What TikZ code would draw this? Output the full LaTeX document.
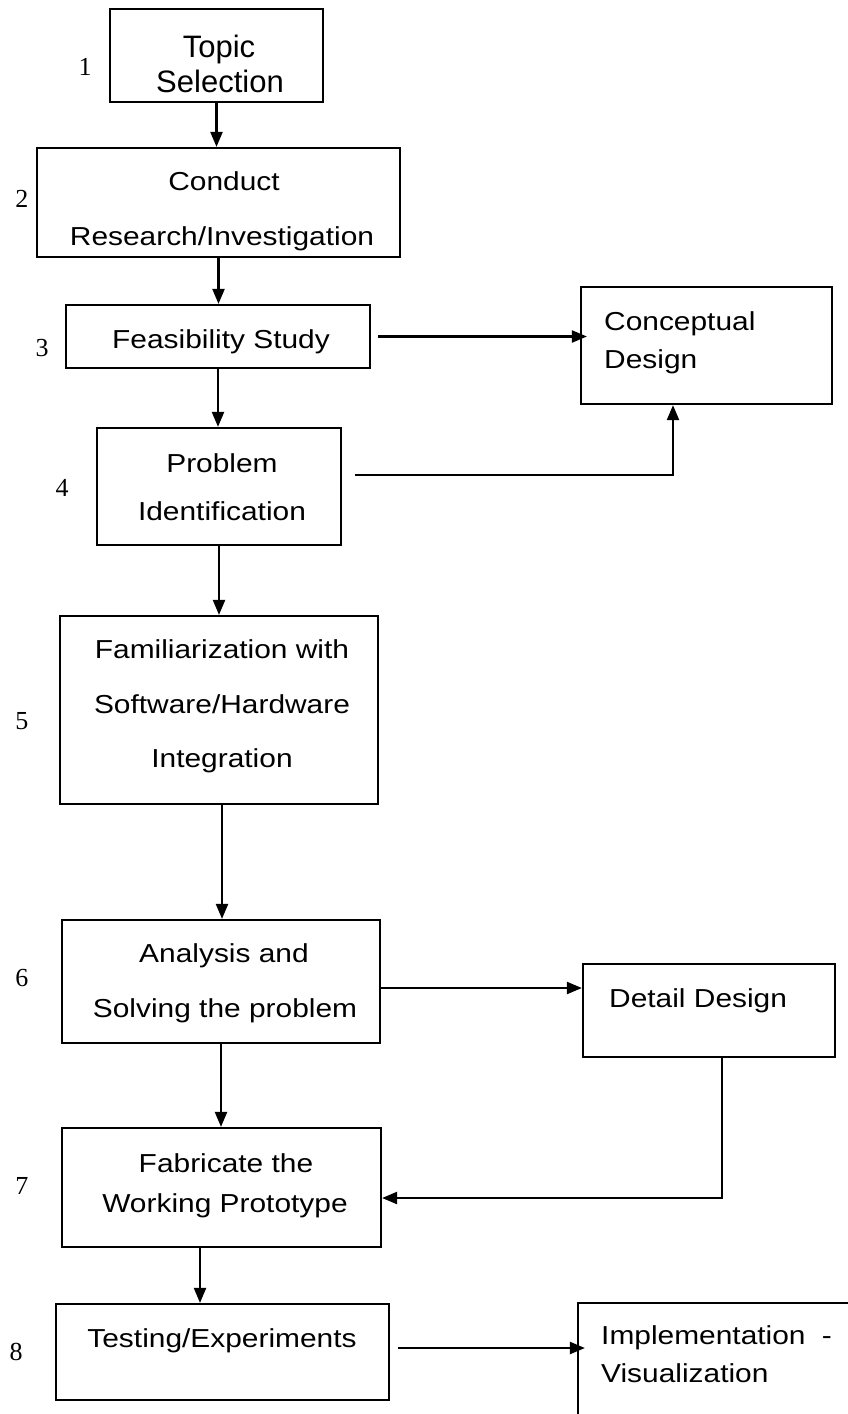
\documentclass[tikz,border=0pt]{standalone}
\usepackage{fontspec}
\setmainfont{Liberation Sans}
\newfontfamily\stretchsans{Liberation Sans}[FakeStretch=1.15]
\newfontfamily\numserif{Liberation Serif}
\usetikzlibrary{arrows.meta}
\begin{document}
\begin{tikzpicture}[x=1pt,y=-1pt,
  box/.style={draw,line width=2.2pt,rectangle,inner sep=0pt},
  lbl/.style={font=\stretchsans\fontsize{26}{30}\selectfont,anchor=base,inner sep=0pt},
  lblbig/.style={font=\fontsize{31}{35}\selectfont,anchor=base,inner sep=0pt},
  lblL/.style={lbl,anchor=base west},
  num/.style={font=\numserif\fontsize{26}{30}\selectfont,inner sep=0pt},
  conn/.style={line width=2.2pt,-{Triangle[length=15pt,width=12pt]}}]
\useasboundingbox (0,0) rectangle (848,1414);
\clip (0,0) rectangle (848,1414);
\fill[white] (0,0) rectangle (848,1414);
% boxes
\node[box,minimum width=213pt,minimum height=93pt] (b1) at (216.5,55.5) {};
\node[box,minimum width=363pt,minimum height=109pt] (b2) at (218.5,202.5) {};
\node[box,minimum width=304pt,minimum height=63pt] (b3) at (218,336.5) {};
\node[box,minimum width=244pt,minimum height=117pt] (b4) at (219,486.5) {};
\node[box,minimum width=251pt,minimum height=117pt] (conc) at (706.5,345.5) {};
\node[box,minimum width=318pt,minimum height=188pt] (b5) at (219,710) {};
\node[box,minimum width=318pt,minimum height=123pt] (b6) at (221,981.5) {};
\node[box,minimum width=252pt,minimum height=93pt] (det) at (709,1010.5) {};
\node[box,minimum width=319pt,minimum height=119pt] (b7) at (221.5,1187.5) {};
\node[box,minimum width=333pt,minimum height=96pt] (b8) at (222.5,1352) {};
\node[box,minimum width=322pt,minimum height=157pt] (impl) at (739,1381.5) {};
% texts
\node[lblbig] (t1a) at (219,57) {Topic};
\node[lblbig] (t1b) at (220,92) {Selection};
\node[lbl] (t2a) at (224,190) {Conduct};
\node[lbl] (t2b) at (222,245) {Research/Investigation};
\node[lbl] (t3) at (221,348) {Feasibility Study};
\node[lbl] (t4a) at (222,472) {Problem};
\node[lbl] (t4b) at (222,520) {Identification};
\node[lbl] (t5a) at (222,658) {Familiarization with};
\node[lbl] (t5b) at (222,713) {Software/Hardware};
\node[lbl] (t5c) at (222,767) {Integration};
\node[lbl] (t6a) at (224,962) {Analysis and};
\node[lbl] (t6b) at (225,1017) {Solving the problem};
\node[lbl] (t7a) at (226,1172) {Fabricate the};
\node[lbl] (t7b) at (225,1212) {Working Prototype};
\node[lbl] (t8) at (222,1347) {Testing/Experiments};
\node[lblL] (tc1) at (604,330) {Conceptual};
\node[lblL] (tc2) at (604,368) {Design};
\node[lblL] (td) at (609,1007) {Detail Design};
\node[lblL] (ti1) at (601,1344) {Implementation\hspace{8pt} -};
\node[lblL] (ti2) at (601,1382) {Visualization};
% numbers
\node[num] (n1) at (85,67) {1};
\node[num] (n2) at (22,199) {2};
\node[num] (n3) at (42,348) {3};
\node[num] (n4) at (62,488) {4};
\node[num] (n5) at (22,721) {5};
\node[num] (n6) at (22,978) {6};
\node[num] (n7) at (22,1186) {7};
\node[num] (n8) at (16,1352) {8};
% connectors
\draw[conn] (b1.south) -- (b1.south |- b2.north);
\draw[conn] (b2.south) -- (b2.south |- b3.north);
\draw[conn] (b3.south) -- (b3.south |- b4.north);
\draw[conn] ([xshift=7pt]b3.east) -- ([xshift=7pt]b3.east -| conc.west);
\draw[conn] ([shift={(13pt,11.5pt)}]b4.east) -| ([xshift=-33.5pt]conc.south);
\draw[conn] (b4.south) -- (b4.south |- b5.north);
\draw[conn] ([xshift=3pt]b5.south) -- ([xshift=3pt]b5.south |- b6.north);
\draw[conn] ([yshift=-6.5pt]b6.east) -- ([yshift=-6.5pt]b6.east -| det.west);
\draw[conn] (b6.south) -- (b6.south |- b7.north);
\draw[conn] ([xshift=13pt]det.south) |- ([yshift=-10.5pt]b7.east);
\draw[conn] ([xshift=-21.5pt]b7.south) -- ([xshift=-21.5pt]b7.south |- b8.north);
\draw[conn] ([shift={(8pt,4pt)}]b8.east) -- ([shift={(8pt,4pt)}]b8.east -| impl.west);
\end{tikzpicture}
\end{document}
